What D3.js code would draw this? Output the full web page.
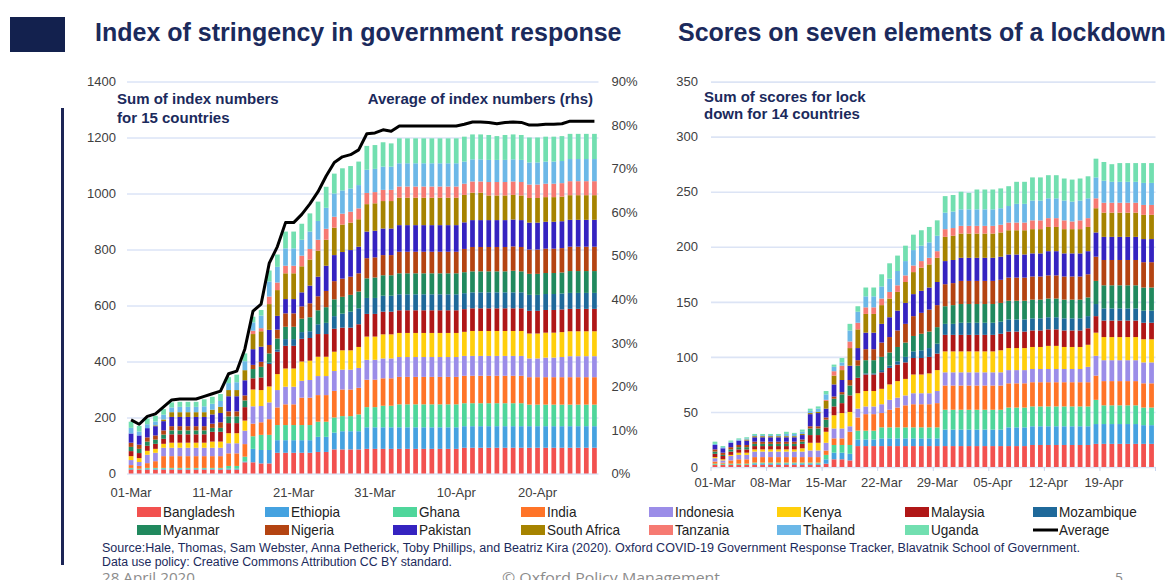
<!DOCTYPE html>
<html>
<head>
<meta charset="utf-8">
<script src="https://cdn.jsdelivr.net/npm/d3@7.9.0/dist/d3.min.js"></script>
<style>
  body { margin: 0; background: #fff; }
  svg { display: block; font-family: "Liberation Sans", Arial, sans-serif; }
</style>
</head>
<body>
<svg id="chart" width="1167" height="580"></svg>
<script>
// ---- data -------------------------------------------------------------
const countries = ['Bangladesh', 'Ethiopia', 'Ghana', 'India', 'Indonesia', 'Kenya', 'Malaysia', 'Mozambique',
  'Myanmar', 'Nigeria', 'Pakistan', 'South Africa', 'Tanzania', 'Thailand', 'Uganda'];
const colors = ['#f2514f', '#45a2e0', '#4fd69b', '#ff7428', '#9b8de8', '#ffcf0c', '#b01717', '#1f699a',
  '#21895e', '#b44412', '#3523c0', '#a68300', '#f67a72', '#6cb8e7', '#72dfb0'];

const leftTickLabels = ['01-Mar', '11-Mar', '21-Mar', '31-Mar', '10-Apr', '20-Apr'];
const rightTickLabels = ['01-Mar', '08-Mar', '15-Mar', '22-Mar', '29-Mar', '05-Apr', '12-Apr', '19-Apr'];

// stringency index per country, 01-Mar .. 27-Apr
const stringency = [
  /* Bangladesh */ [14,14,14,14,14,14,14,14,14,14, 14,14,14,14,40,40,36,36,74,74, 74,74,74,77,77,86,86,86,86,88, 88,88,88,88,88,88,88,88,88,88, 88,92,92,92,92,92,92,92,92,92, 92,92,92,92,92,92,92,92],
  /* Ethiopia */   [3,0,3,3,3,3,3,3,3,3, 3,3,3,3,3,48,48,48,45,45, 45,45,45,54,54,60,65,65,65,77, 77,77,77,77,77,77,77,77,77,77, 77,77,77,77,77,77,77,77,77,77, 77,77,77,77,77,77,77,77],
  /* Ghana */      [3,3,3,3,3,3,3,3,3,3, 3,3,10,10,17,45,54,54,54,54, 54,54,54,54,54,54,54,54,60,72, 72,77,77,82,82,82,82,82,82,82, 82,82,82,82,82,82,82,82,82,77, 77,77,77,77,77,77,77,77],
  /* India */      [10,10,17,24,42,42,42,42,42,42, 42,42,45,45,45,45,45,56,63,74, 74,98,98,95,95,95,95,95,95,98, 98,98,98,98,98,98,98,98,98,98, 98,98,98,98,98,98,98,98,98,98, 98,98,98,98,98,98,98,98],
  /* Indonesia */  [18,14,30,30,30,30,30,30,30,30, 30,30,36,36,48,62,58,60,62,63, 63,60,63,68,68,71,71,71,71,71, 71,71,71,71,71,71,71,71,71,71, 71,71,71,71,71,71,71,71,71,67, 67,70,70,72,75,75,75,75],
  /* Kenya */      [14,14,14,14,14,18,18,18,18,18, 22,22,36,36,36,60,57,57,57,65, 65,69,69,69,69,69,69,69,75,83, 83,86,86,86,86,86,86,86,86,86, 86,86,89,89,89,89,89,89,89,89, 89,89,89,89,89,89,89,89],
  /* Malaysia */   [18,18,18,18,18,30,30,30,30,30, 35,35,36,36,48,40,45,80,80,81, 81,81,81,81,81,82,81,81,81,81, 81,81,81,81,81,81,81,81,81,81, 81,81,81,81,81,81,81,81,81,81, 81,81,81,81,80,80,80,80],
  /* Mozambique */ [0,0,0,0,0,0,0,0,0,0, 0,0,0,0,0,0,0,5,8,24, 24,24,24,35,40,45,50,57,57,57, 57,57,57,57,57,57,57,57,57,57, 57,57,57,57,57,57,57,57,57,57, 57,57,57,57,57,57,57,57],
  /* Myanmar */    [15,15,15,15,15,14,14,14,14,14, 14,14,24,24,24,33,38,33,39,44, 44,48,50,50,56,60,60,60,60,70, 73,73,73,75,75,75,75,75,75,75, 75,75,75,75,75,75,75,77,75,75, 75,75,75,75,78,78,78,78],
  /* Nigeria */    [15,15,15,15,15,15,15,15,15,15, 15,20,18,18,18,15,18,30,32,48, 48,44,50,50,58,65,65,65,65,72, 72,72,72,77,77,77,77,77,77,77, 77,83,87,87,87,87,87,87,87,87, 87,87,87,87,87,87,87,87],
  /* Pakistan */   [33,33,33,33,33,33,33,33,33,33, 33,33,54,54,54,56,54,54,49,51, 51,50,63,70,90,93,95,95,95,95, 95,95,95,95,95,95,95,95,95,95, 95,95,96,96,96,96,96,96,96,96, 96,96,96,96,96,96,96,96],
  /* S. Africa */  [0,0,0,3,6,17,17,17,17,17, 17,22,22,22,36,54,55,92,92,92, 92,93,93,93,93,98,98,98,98,98, 98,98,98,98,98,98,98,98,98,98, 98,98,98,98,88,88,88,88,88,88, 88,88,88,88,88,88,88,88],
  /* Tanzania */   [0,0,0,0,0,0,0,0,0,0, 0,0,0,0,0,12,11,27,27,27, 27,38,38,39,39,39,39,39,39,40, 40,40,40,40,40,40,40,40,40,40, 40,40,40,40,48,48,48,48,48,48, 48,48,48,48,50,50,50,50],
  /* Thailand */   [20,14,14,14,17,17,19,19,19,21, 21,21,25,28,32,30,45,54,56,62, 62,57,62,67,75,83,83,83,83,83, 83,83,83,83,83,83,83,83,83,83, 83,79,79,79,79,79,79,79,79,79, 79,79,79,79,79,79,79,79],
  /* Uganda */     [22,20,20,20,20,18,18,18,18,25, 25,25,21,27,28,20,20,39,44,60, 60,57,65,69,75,71,79,80,84,85, 85,87,83,89,89,89,89,89,89,89, 89,89,89,89,89,85,89,89,89,89, 89,89,89,89,90,90,90,90]
];

// average of index numbers (%)
const averageIndex = [12.3,11.3,13.1,13.7,15.3,16.9,17.1,17.1,17.1,17.7, 18.3,18.9,22.9,23.5,28.6,37.3,38.9,48.3,52.1,57.6,
  57.6,59.5,61.9,64.7,68.3,71.4,72.7,73.2,74.3,78.0, 78.2,78.9,78.6,79.8,79.8,79.8,79.8,79.8,79.8,79.8,
  79.8,80.2,80.7,80.7,80.6,80.3,80.6,80.7,80.6,80.0, 80.0,80.2,80.2,80.3,80.9,80.9,80.9,80.9];

// lockdown scores per country, 01-Mar .. 25-Apr
const lockdown = [
  /* Bangladesh */ [2,2,2,2,2,2,2,2,2,2, 2,2,2,2,3,7,7,6,19,19, 19,19,19,19,19,19,19,19,19,19, 19,19,19,19,19,19,19,19,19,19, 20,20,20,20,20,20,20,20,21,21, 21,21,21,21,21,21],
  /* Ethiopia */   [0,0,0,0,0,1,1,1,1,1, 1,1,1,1,4,6,6,6,6,6, 6,7,7,7,7,7,7,7,7,15, 15,15,15,15,15,15,15,17,17,17, 17,17,17,17,17,17,17,17,18,18, 18,18,18,18,17,17],
  /* Ghana */      [1,1,1,1,1,1,1,1,1,1, 1,1,1,1,4,7,7,8,8,8, 8,10,10,10,10,10,10,10,10,18, 18,18,18,18,18,18,18,18,18,18, 18,18,18,18,18,18,18,18,22,17, 17,17,17,17,16,16],
  /* India */      [2,1,3,4,4,5,5,5,5,5, 5,5,5,5,4,6,6,12,12,15, 15,13,16,18,20,21,21,21,22,22, 22,22,22,22,22,22,22,22,22,22, 22,22,22,22,22,22,22,22,22,22, 22,22,22,22,22,22],
  /* Indonesia */  [3,2,4,4,4,5,5,5,5,5, 5,5,6,6,7,9,9,5,8,7, 7,8,9,9,9,10,10,10,11,12, 12,12,12,12,12,12,12,12,12,12, 12,12,12,12,12,12,12,14,18,19, 19,19,19,19,19,19],
  /* Kenya */      [1,1,1,2,2,2,2,2,2,2, 2,3,7,7,10,12,14,13,14,14, 14,14,14,15,15,17,17,18,19,19, 19,19,19,19,19,19,20,20,20,20, 20,20,21,21,20,20,20,20,21,21, 21,21,21,21,21,21],
  /* Malaysia */   [3,3,3,3,3,3,3,3,3,3, 3,4,7,7,4,8,9,15,14,15, 15,15,15,15,15,15,15,15,15,15, 15,15,15,15,15,15,15,15,15,15, 15,15,15,15,15,15,15,15,15,15, 15,15,15,15,15,15],
  /* Mozambique */ [0,0,0,0,0,0,0,0,0,0, 0,0,0,0,0,0,0,0,0,1, 1,2,2,3,5,6,7,8,9,10, 10,11,11,11,11,11,11,11,11,11, 11,11,11,11,11,11,11,11,11,11, 11,11,11,11,11,11],
  /* Myanmar */    [2,1,2,2,2,2,2,2,2,2, 2,2,6,6,7,7,8,9,11,12, 12,12,12,13,13,14,15,15,15,16, 17,17,17,17,17,17,17,17,17,17, 17,17,17,17,17,17,17,17,21,21, 21,21,21,21,21,21],
  /* Nigeria */    [2,2,2,2,2,2,2,2,2,2, 2,2,2,2,2,2,2,5,5,10, 10,13,14,15,17,18,19,20,20,20, 20,21,21,21,21,21,21,21,21,21, 21,21,21,21,21,21,21,21,22,23, 23,23,23,23,23,23],
  /* Pakistan */   [4,4,4,4,4,4,4,4,4,4, 4,4,11,12,8,11,11,13,11,15, 15,17,18,18,19,20,20,20,21,21, 21,21,21,21,21,21,21,21,21,21, 21,21,22,22,21,21,21,21,22,21, 21,21,21,21,21,21],
  /* S. Africa */  [0,0,0,0,1,1,1,1,1,1, 1,1,1,1,7,8,9,16,17,17, 17,17,17,17,19,20,21,21,22,22, 22,22,22,22,22,22,22,22,22,22, 22,22,22,22,22,22,22,22,22,22, 22,22,22,22,22,22],
  /* Tanzania */   [0,0,0,0,0,0,0,0,0,0, 0,0,0,0,1,4,4,6,6,6, 6,6,6,6,6,6,6,6,6,7, 7,7,7,7,7,7,7,7,7,7, 8,8,8,8,8,7,8,8,9,9, 9,9,9,9,9,9],
  /* Thailand */   [1,1,1,1,1,1,1,1,1,2, 2,2,2,3,5,4,3,10,10,10, 10,11,12,13,13,14,14,14,14,15, 15,15,15,15,15,15,15,15,17,17, 18,18,18,18,18,18,18,18,19,20, 19,19,19,19,20,20],
  /* Uganda */     [2,1,1,1,1,1,1,1,1,2, 1,2,2,2,3,2,4,6,5,8, 8,11,14,14,14,14,14,14,14,15, 15,16,15,18,18,18,18,18,20,20, 21,21,21,21,20,20,20,20,17,17, 16,17,17,17,18,18]
];

// ---- setup ------------------------------------------------------------
const fmt = d3.timeFormat('%d-%b');
const leftDates = d3.timeDay.range(new Date(2020, 2, 1), new Date(2020, 3, 28)).map(fmt);
const rightDates = d3.timeDay.range(new Date(2020, 2, 1), new Date(2020, 3, 26)).map(fmt);

const svg = d3.select('#chart');
const navy = '#1b2a5c';
const labelColor = '#404040';

function toRows(dates, table) {
  return dates.map((d, i) => {
    const row = { date: d };
    countries.forEach((c, k) => { row[c] = table[k][i]; });
    return row;
  });
}

function drawStack(g, rows, x, y) {
  const series = d3.stack().keys(countries)(rows);
  g.selectAll('g.series')
    .data(series)
    .join('g')
    .attr('class', 'series')
    .attr('fill', (d, i) => colors[i])
    .selectAll('rect')
    .data(d => d)
    .join('rect')
    .attr('x', d => x(d.data.date))
    .attr('width', x.bandwidth())
    .attr('y', d => y(d[1]))
    .attr('height', d => Math.max(0, y(d[0]) - y(d[1])));
}

function styleAxisText(g) {
  g.select('.domain').remove();
  g.selectAll('text').attr('fill', labelColor).attr('font-size', 13)
    .attr('font-family', '"Liberation Sans", Arial, sans-serif');
}

// header
svg.append('rect').attr('x', 10).attr('y', 17).attr('width', 55).attr('height', 35).attr('fill', '#13214e');
svg.append('rect').attr('x', 61).attr('y', 108).attr('width', 3).attr('height', 457).attr('fill', '#1c2556');

svg.append('text').attr('x', 95).attr('y', 41).text('Index of stringency in government response')
  .attr('font-size', 25).attr('font-weight', 'bold').attr('fill', navy);
svg.append('text').attr('x', 678).attr('y', 41).text('Scores on seven elements of a lockdown')
  .attr('font-size', 25).attr('font-weight', 'bold').attr('fill', navy);

// ---- left chart -------------------------------------------------------
const xL = d3.scaleBand().domain(leftDates).range([127, 598.5]).paddingInner(0.42).paddingOuter(0.21);
const yL = d3.scaleLinear().domain([0, 1400]).range([473.5, 81.5]);
const yPct = d3.scaleLinear().domain([0, 90]).range([473.5, 81.5]);

const gL = svg.append('g');
gL.append('g')
  .attr('transform', 'translate(127,0)')
  .call(d3.axisLeft(yL).tickValues(d3.range(0, 1401, 200)).tickFormat(d3.format('d'))
    .tickSize(-(598.5 - 127)).tickPadding(11))
  .call(styleAxisText)
  .call(g => g.selectAll('line').attr('stroke', '#c9d6f2').attr('stroke-width', 1));

gL.append('g')
  .attr('transform', 'translate(598.5,0)')
  .call(d3.axisRight(yPct).tickValues(d3.range(0, 91, 10)).tickSize(0).tickPadding(13).tickFormat(d => d + '%'))
  .call(styleAxisText);

gL.append('g')
  .attr('transform', 'translate(0,480)')
  .call(d3.axisBottom(xL).tickValues(leftTickLabels).tickSize(0).tickPadding(8))
  .call(styleAxisText);

drawStack(gL.append('g'), toRows(leftDates, stringency), xL, yL);

gL.append('path')
  .datum(averageIndex)
  .attr('fill', 'none').attr('stroke', '#000').attr('stroke-width', 3)
  .attr('stroke-linejoin', 'round')
  .attr('d', d3.line().x((d, i) => xL(leftDates[i]) + xL.bandwidth() / 2).y(d => yPct(d)));

gL.append('text').attr('x', 117).attr('y', 104).text('Sum of index numbers')
  .attr('font-size', 15).attr('font-weight', 'bold').attr('fill', navy);
gL.append('text').attr('x', 117).attr('y', 123).text('for 15 countries')
  .attr('font-size', 15).attr('font-weight', 'bold').attr('fill', navy);
gL.append('text').attr('x', 593).attr('y', 104).attr('text-anchor', 'end').text('Average of index numbers (rhs)')
  .attr('font-size', 15).attr('font-weight', 'bold').attr('fill', navy);

// ---- right chart ------------------------------------------------------
const xR = d3.scaleBand().domain(rightDates).range([711, 1155.5]).paddingInner(0.4).paddingOuter(0.2);
const yR = d3.scaleLinear().domain([0, 350]).range([467, 81.6]);

const gR = svg.append('g');
gR.append('g')
  .attr('transform', 'translate(711,0)')
  .call(d3.axisLeft(yR).tickValues(d3.range(0, 351, 50)).tickSize(-(1155.5 - 711)).tickPadding(13))
  .call(styleAxisText)
  .call(g => g.selectAll('line').attr('stroke', '#dce4f5').attr('stroke-width', 1.6));

gR.append('g')
  .attr('transform', 'translate(0,471)')
  .call(d3.axisBottom(xR).tickValues(rightTickLabels).tickSize(0).tickPadding(7))
  .call(styleAxisText);

// small ticks on the category boundaries
gR.append('g')
  .selectAll('line')
  .data(rightTickLabels.map(d => xR(d) - xR.step() * xR.paddingInner() / 2).concat([1155.5]))
  .join('line')
  .attr('x1', d => d).attr('x2', d => d)
  .attr('y1', 467).attr('y2', 471)
  .attr('stroke', '#c8d4ee').attr('stroke-width', 1);

drawStack(gR.append('g'), toRows(rightDates, lockdown), xR, yR);

gR.append('text').attr('x', 704).attr('y', 102).text('Sum of scores for lock')
  .attr('font-size', 15).attr('font-weight', 'bold').attr('fill', navy);
gR.append('text').attr('x', 704).attr('y', 119).text('down for 14 countries')
  .attr('font-size', 15).attr('font-weight', 'bold').attr('fill', navy);

// ---- legend -----------------------------------------------------------
const legendItems = countries.map((c, i) => ({ name: c, color: colors[i] }))
  .concat([{ name: 'Average', line: true }]);

const legend = svg.append('g')
  .selectAll('g')
  .data(legendItems)
  .join('g')
  .attr('transform', (d, i) => `translate(${137 + 128 * (i % 8)},${512 + 18 * Math.floor(i / 8)})`);

legend.each(function (d) {
  const g = d3.select(this);
  if (d.line) {
    g.append('line').attr('x1', 0).attr('x2', 25).attr('y1', 0).attr('y2', 0)
      .attr('stroke', '#000').attr('stroke-width', 3);
  } else {
    g.append('rect').attr('x', 0).attr('y', -5).attr('width', 24).attr('height', 10).attr('fill', d.color);
  }
  g.append('text')
    .attr('transform', 'translate(26,5) scale(0.97,1)')
    .attr('font-size', 14)
    .attr('fill', '#222')
    .text(d.name);
});

// ---- source & footer --------------------------------------------------
svg.append('text').attr('x', 102).attr('y', 552)
  .attr('font-size', 12).attr('fill', navy)
  .attr('textLength', 978).attr('lengthAdjust', 'spacingAndGlyphs')
  .text('Source:Hale, Thomas, Sam Webster, Anna Petherick, Toby Phillips, and Beatriz Kira (2020). Oxford COVID-19 Government Response Tracker, Blavatnik School of Government.');
svg.append('text').attr('x', 102).attr('y', 566)
  .attr('font-size', 12).attr('fill', navy)
  .attr('textLength', 350).attr('lengthAdjust', 'spacingAndGlyphs')
  .text('Data use policy: Creative Commons Attribution CC BY standard.');

const footer = [
  { text: '28 April 2020', x: 102, w: 93 },
  { text: '\u00a9 Oxford Policy Management', x: 502, w: 218 },
  { text: '5', x: 1115, w: 8 }
];
svg.append('g').selectAll('text')
  .data(footer)
  .join('text')
  .attr('x', d => d.x).attr('y', 583)
  .attr('font-family', '"Open Sans", sans-serif')
  .attr('font-size', 15).attr('fill', '#8c8c8c')
  .attr('textLength', d => d.w).attr('lengthAdjust', 'spacingAndGlyphs')
  .text(d => d.text);
</script>
</body>
</html>
